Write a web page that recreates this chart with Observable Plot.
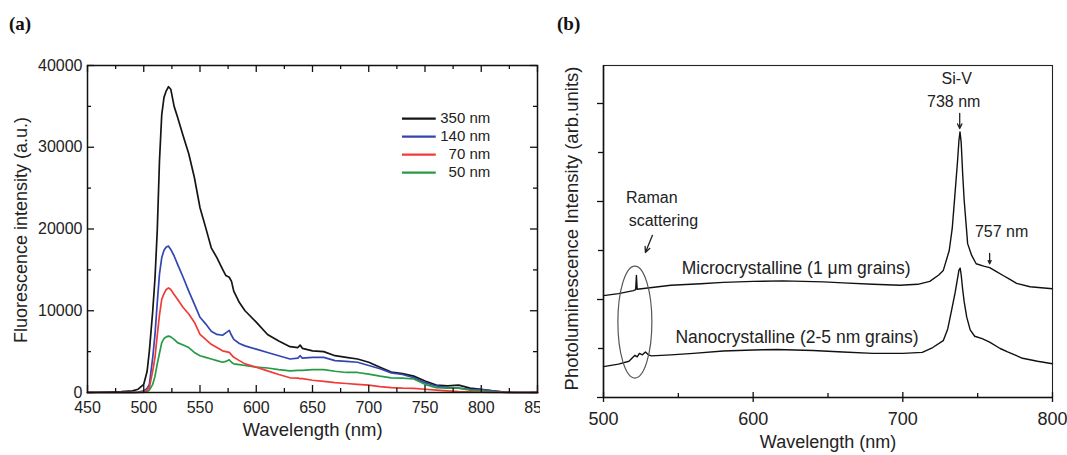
<!DOCTYPE html>
<html><head><meta charset="utf-8">
<script src="https://cdn.jsdelivr.net/npm/d3@7"></script>
<script src="https://cdn.jsdelivr.net/npm/@observablehq/plot@0.6"></script>
<style>
body{margin:0;background:#fff;}
#wrap{position:relative;width:1067px;height:455px;overflow:hidden;background:#fff;}
#pa{position:absolute;left:0;top:0;}
#pb{position:absolute;left:540px;top:0;}
.tag{position:absolute;top:13px;font-family:"Liberation Serif","Times New Roman",serif;font-weight:bold;font-size:19px;color:#111;}
</style></head><body>
<div id="wrap"><div id="pa"></div><div id="pb"></div>
<div class="tag" style="left:9px">(a)</div><div class="tag" style="left:557px">(b)</div></div>
<script>
// ---------- Panel (a) data ----------
const seriesA = ["350 nm", "140 nm", "70 nm", "50 nm"];
const colorsA = ["#151515", "#3446b2", "#f03c38", "#259a47"];
const wlA = [450,480,490,495,500,503,505,508,510,512,514,516,518,520,522,524,527,530,535,540,545,550,555,560,565,570,573,576,578,580,585,590,600,610,620,630,637,639,641,650,660,670,680,690,700,710,720,730,740,750,760,770,780,790,800,810,820,830,850];
const nm350 = [0,100,200,400,1000,2600,5100,10000,14000,19800,28400,34000,36100,36900,37400,37100,35000,33700,31400,29200,26300,22600,20200,17700,16500,15100,14300,14100,13600,12400,11000,10000,8600,7100,6300,5600,5500,5800,5400,5100,5000,4500,4300,4100,3700,3100,2500,2300,2000,1400,900,800,900,530,400,200,40,0,0];
const nm140 = [0,0,0,50,200,500,1000,4300,7100,11000,14500,16500,17400,17800,17900,17500,16700,15700,14100,12400,10800,9200,8400,7500,7100,7000,7300,7600,7000,6500,6000,5700,5300,4900,4500,4100,4200,4500,4200,4300,4300,3900,3800,3700,3300,2900,2400,2200,1800,1200,800,600,530,400,370,200,50,0,0];
const nm70 = [0,0,0,0,100,300,600,2650,4300,7000,9500,11400,12100,12600,12800,12600,12000,11400,10400,9600,8600,7100,6500,5900,5500,5100,5000,4900,4600,4300,3900,3500,3100,2650,2200,1800,1750,1700,1700,1500,1350,1200,1100,1000,900,730,600,530,500,400,290,200,120,80,40,0,0,0,0];
const nm50 = [0,0,0,0,0,100,300,1000,2000,3500,4800,6100,6600,6800,6900,6800,6500,6100,5800,5500,4900,4500,4300,4100,3900,3700,3800,4000,3700,3500,3400,3300,3100,3000,2800,2650,2700,2700,2700,2800,2800,2600,2450,2450,2250,2000,1800,1750,1650,1000,600,530,530,290,200,120,0,0,0];
const valuesA = [nm350, nm140, nm70, nm50];
const drawOrderA = [0, 1, 3, 2];
const legendYA = [33500, 31300, 29100, 26900];
const xMajorA = [450,500,550,600,650,700,750,800,850];
const xMinorA = [475,525,575,625,675,725,775,825];
const yMajorA = [0,10000,20000,30000,40000];
const yMinorA = [5000,15000,25000,35000];

// ---------- Panel (b) data ----------
const wlMicro = [500,510,520,521.5,522,522.5,531,545,565,580,600,620,647,660,680,698,710,718,724,727,731,733,734.7,736.5,737.5,738.2,739,740,741,742.5,743.3,746,749,754,758,762,767,771,776,785,800];
const micro  = [2.08,2.12,2.18,2.2,2.49,2.21,2.24,2.29,2.32,2.35,2.37,2.38,2.36,2.34,2.31,2.29,2.31,2.37,2.5,2.59,3.0,3.45,4.1,4.8,5.25,5.42,5.2,4.55,4.02,3.45,3.14,2.9,2.73,2.68,2.65,2.58,2.49,2.42,2.33,2.26,2.22];
const wlNano = [500,510,517,519,521,522.5,524,526,528,530,532,545,560,580,600,616,640,660,680,700,713,720,727,730,732.7,735,736.5,737.5,738.3,739,740,741,742.7,745,748,753,758,765,770,780,790,800];
const nano   = [0.63,0.68,0.74,0.8,0.86,0.83,0.9,0.87,0.93,0.87,0.85,0.87,0.9,0.95,0.97,0.98,0.96,0.93,0.9,0.9,0.92,1.02,1.16,1.4,1.8,2.15,2.42,2.6,2.64,2.5,2.2,1.95,1.64,1.38,1.25,1.2,1.13,1.0,0.93,0.8,0.74,0.69];
const xMajorB = [500,600,700,800];
const xMinorB = [550,650,750];
const yMajorB = [0,2,4,6];
const yMinorB = [1,3,5];
const labelsB = ["Si-V", "738 nm", "757 nm", "Raman", "scattering", "Microcrystalline (1 \u03bcm grains)", "Nanocrystalline (2-5 nm grains)"];
const labelXB = [736, 734, 766, 532.3, 540, 628.7, 629.3];
const labelYB = [6.51, 6.04, 3.37, 4.08, 3.61, 2.63, 1.22];
const labelSizeB = [16, 16, 16, 16, 16, 17.5, 17.5];
const arrowX1B = [738, 758, 532.7];
const arrowY1B = [5.8, 2.94, 3.31];
const arrowX2B = [738, 758, 528];
const arrowY2B = [5.49, 2.73, 2.96];
const ellipseB = {x: 521.3, y: 1.53};

const FONT = "'Liberation Sans', Arial, Helvetica, sans-serif";

// ---------- Build panel (a) ----------
const rowsA = [];
drawOrderA.forEach(i => wlA.forEach((w, j) => rowsA.push({w, v: valuesA[i][j], s: seriesA[i]})));
const legendRowsA = seriesA.map((s, i) => ({s, y: legendYA[i]}));
const pwA = 540 - 87 - 3, phA = 455 - 65 - 63;

const chartA = Plot.plot({
  width: 540, height: 455,
  marginLeft: 87, marginRight: 3, marginTop: 65, marginBottom: 63,
  x: {domain: [450, 850]},
  y: {domain: [0, 40000]},
  color: {domain: seriesA, range: colorsA},
  style: {fontFamily: FONT, color: "#222", background: "white", overflow: "visible"},
  marks: [
    Plot.line(rowsA, {x: "w", y: "v", z: "s", stroke: "s", strokeWidth: 1.7}),
    Plot.ruleY(legendRowsA, {y: "y", x1: 730, x2: 760, stroke: "s", strokeWidth: 2.2}),
    Plot.text(legendRowsA, {y: "y", x: 808, text: "s", textAnchor: "end", fontSize: 15, fill: "#222"}),
    Plot.frame({stroke: "#111", strokeWidth: 1.5}),
    Plot.ruleX(xMajorA, {x: d => d, insetTop: phA - 7, stroke: "#111", strokeWidth: 1.3}),
    Plot.ruleX(xMajorA, {x: d => d, insetBottom: phA - 7, stroke: "#111", strokeWidth: 1.3}),
    Plot.ruleX(xMinorA, {x: d => d, insetTop: phA - 4, stroke: "#111", strokeWidth: 1.3}),
    Plot.ruleX(xMinorA, {x: d => d, insetBottom: phA - 4, stroke: "#111", strokeWidth: 1.3}),
    Plot.ruleY(yMajorA, {y: d => d, insetRight: pwA - 7, stroke: "#111", strokeWidth: 1.3}),
    Plot.ruleY(yMajorA, {y: d => d, insetLeft: pwA - 7, stroke: "#111", strokeWidth: 1.3}),
    Plot.ruleY(yMinorA, {y: d => d, insetRight: pwA - 4, stroke: "#111", strokeWidth: 1.3}),
    Plot.ruleY(yMinorA, {y: d => d, insetLeft: pwA - 4, stroke: "#111", strokeWidth: 1.3}),
    Plot.axisX({ticks: xMajorA, tickSize: 0, tickPadding: 9, fontSize: 16, label: null, tickFormat: d => String(d)}),
    Plot.axisY({ticks: yMajorA, tickSize: 0, tickPadding: 5, fontSize: 16, label: null, tickFormat: d => String(d)}),
    Plot.text(["Wavelength (nm)"], {frameAnchor: "bottom", lineAnchor: "middle", textAnchor: "middle", dy: 38, fontSize: 18.5, fill: "#222"}),
    Plot.text(["Fluorescence intensity (a.u.)"], {frameAnchor: "left", lineAnchor: "middle", textAnchor: "middle", rotate: -90, dx: -66, dy: 1, fontSize: 18, fill: "#222"})
  ]
});
document.getElementById("pa").appendChild(chartA);

// ---------- Build panel (b) ----------
const rowsB = [];
wlMicro.forEach((w, j) => rowsB.push({w, v: micro[j], s: "micro"}));
wlNano.forEach((w, j) => rowsB.push({w, v: nano[j], s: "nano"}));
const labelRowsB = labelsB.map((t, i) => ({t, x: labelXB[i], y: labelYB[i], f: labelSizeB[i]}));
const arrowRowsB = arrowX1B.map((x1, i) => ({x1, y1: arrowY1B[i], x2: arrowX2B[i], y2: arrowY2B[i]}));
const pwB = 527 - 63 - 15, phB = 455 - 65 - 58;

const chartB = Plot.plot({
  width: 527, height: 455,
  marginLeft: 63, marginRight: 15, marginTop: 65, marginBottom: 58,
  x: {domain: [500, 800]},
  y: {domain: [0, phB / 49], axis: null},
  style: {fontFamily: FONT, color: "#222", background: "white", overflow: "visible"},
  marks: [
    Plot.line(rowsB, {x: "w", y: "v", z: "s", stroke: "#111", strokeWidth: 1.4}),
    Plot.frame({stroke: "#222", strokeWidth: 1.1}),
    Plot.ruleX(xMajorB, {x: d => d, insetTop: phB - 5, insetBottom: -5, stroke: "#111", strokeWidth: 1.3}),
    Plot.ruleX(xMinorB, {x: d => d, insetTop: phB - 4, stroke: "#111", strokeWidth: 1.3}),
    Plot.ruleY(yMajorB, {y: d => d, insetLeft: -6, insetRight: pwB, stroke: "#111", strokeWidth: 1.3}),
    Plot.ruleY(yMinorB, {y: d => d, insetLeft: -5, insetRight: pwB, stroke: "#111", strokeWidth: 1.3}),
    Plot.ruleX([500], {x: d => d, stroke: "#111", strokeWidth: 1.6}),
    Plot.ruleY([0], {y: d => d, stroke: "#111", strokeWidth: 1.6}),
    Plot.arrow(arrowRowsB, {x1: "x1", y1: "y1", x2: "x2", y2: "y2", stroke: "#222", strokeWidth: 1.3, headLength: 7, headAngle: 50}),
    Plot.text(labelRowsB, {x: "x", y: "y", text: "t", fontSize: d => d.f, fill: "#222"}),
    Plot.axisX({ticks: xMajorB, tickSize: 0, tickPadding: 15, fontSize: 18, label: null, tickFormat: d => String(d)}),
    Plot.text(["Wavelength (nm)"], {frameAnchor: "bottom", lineAnchor: "middle", textAnchor: "middle", dy: 45, fontSize: 18, fill: "#222"}),
    Plot.text(["Photoluminescence Intensity (arb.units)"], {frameAnchor: "left", lineAnchor: "middle", textAnchor: "middle", rotate: -90, dx: -31, dy: -3, fontSize: 18.5, fill: "#222"})
  ]
});
document.getElementById("pb").appendChild(chartB);

// Ellipse around the Raman features, placed through the chart's own scales
const sxB = chartB.scale("x"), syB = chartB.scale("y");
d3.select(chartB).append("ellipse")
  .attr("cx", sxB.apply(ellipseB.x))
  .attr("cy", syB.apply(ellipseB.y))
  .attr("rx", 17).attr("ry", 56)
  .attr("fill", "none").attr("stroke", "#555").attr("stroke-width", 1.2);
</script>
</body></html>
